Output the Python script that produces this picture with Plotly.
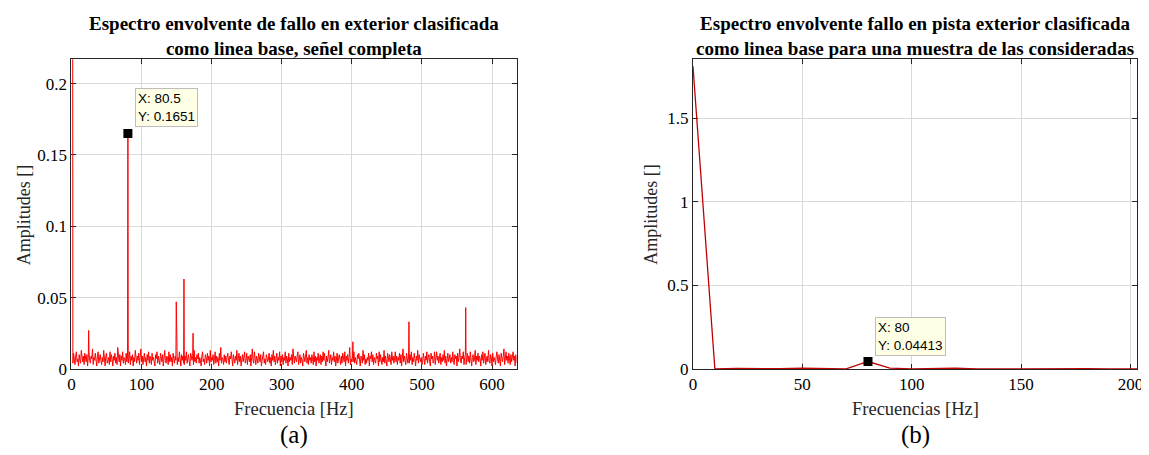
import plotly.graph_objects as go

# ---------------- data (a): full-signal envelope spectrum ----------------
dc_freq_a = [0.0]
dc_amp_a = [1.8]
# broadband noise floor, read every 1 Hz (1, 2, 3, ... Hz), in thousandths
noise_milli_a = [
    8, 4, 11, 6, 3, 9, 12, 5, 7, 2, 10, 6, 4, 13, 8, 5, 9, 3, 11, 7,
    5, 10, 2, 8, 12, 6, 4, 9, 7, 14, 3, 8, 6, 11, 5, 2, 9, 12, 4, 7,
    10, 6, 3, 8, 5, 13, 7, 2, 9, 11, 4, 6, 8, 3, 12, 5, 10, 7, 2, 9,
    6, 11, 4, 8, 3, 15, 7, 5, 10, 2, 9, 6, 12, 4, 8, 7, 3, 11, 5, 9,
    4, 7, 12, 3, 9, 6, 10, 2, 8, 5, 13, 7, 4, 9, 6, 11, 3, 8, 14, 5,
    9, 3, 7, 11, 5, 8, 2, 10, 6, 12, 4, 9, 7, 3, 11, 6, 8, 5, 2, 10,
    7, 12, 4, 9, 6, 3, 11, 8, 5, 10, 2, 7, 13, 6, 4, 9, 8, 3, 12, 5,
    10, 5, 8, 2, 11, 7, 4, 9, 6, 14, 3, 8, 5, 12, 7, 2, 10, 6, 9, 4,
    3, 9, 6, 12, 4, 8, 10, 5, 2, 11, 7, 6, 9, 3, 13, 5, 8, 4, 10, 7,
    11, 4, 8, 6, 2, 9, 12, 5, 7, 3, 10, 8, 4, 11, 6, 9, 2, 13, 5, 8,
    6, 10, 3, 7, 12, 4, 9, 5, 8, 2, 11, 6, 15, 4, 8, 7, 3, 10, 5, 9,
    4, 8, 11, 6, 3, 9, 7, 12, 5, 2, 10, 8, 4, 9, 6, 13, 3, 7, 11, 5,
    9, 2, 7, 10, 5, 8, 12, 4, 6, 11, 3, 9, 7, 5, 10, 2, 8, 14, 6, 4,
    12, 6, 3, 9, 7, 4, 11, 8, 5, 10, 2, 6, 9, 12, 4, 7, 3, 10, 8, 5,
    7, 11, 4, 8, 2, 10, 6, 13, 5, 9, 3, 7, 11, 4, 8, 6, 12, 2, 9, 5,
    10, 3, 8, 6, 12, 4, 9, 7, 2, 11, 5, 8, 6, 10, 3, 14, 7, 4, 9, 6,
    5, 9, 12, 3, 7, 10, 4, 8, 6, 2, 11, 7, 5, 9, 13, 4, 8, 3, 10, 6,
    8, 4, 10, 7, 3, 12, 5, 9, 2, 8, 6, 11, 4, 7, 10, 3, 9, 5, 12, 6,
    11, 6, 2, 9, 5, 8, 13, 4, 7, 10, 3, 8, 6, 12, 5, 9, 2, 7, 11, 4,
    6, 10, 7, 3, 9, 4, 11, 8, 5, 12, 2, 9, 6, 10, 4, 8, 15, 3, 7, 5,
    9, 5, 12, 4, 8, 6, 3, 10, 7, 11, 5, 2, 9, 8, 4, 13, 6, 10, 3, 7,
    4, 8, 6, 11, 2, 9, 7, 12, 5, 10, 3, 8, 6, 4, 11, 7, 9, 2, 12, 5,
    10, 7, 3, 8, 5, 13, 4, 9, 6, 2, 11, 8, 5, 10, 7, 3, 12, 6, 9, 4,
    7, 12, 5, 9, 3, 8, 6, 11, 4, 10, 2, 7, 14, 5, 9, 6, 3, 11, 8, 4,
    9, 4, 10, 6, 12, 3, 8, 5, 11, 7, 2, 9, 6, 13, 4, 10, 7, 5, 8, 3,
    5, 11, 7, 3, 9, 6, 12, 4, 8, 10, 5, 2, 11, 7, 9, 4, 6, 12, 3, 8,
    12, 6, 9, 4, 7, 11, 3, 8, 5, 10, 6, 13, 4, 9, 2, 8, 11, 5, 7, 10,
    4, 8, 5, 12, 6, 3, 10, 7, 9, 2, 11, 5, 8, 14, 6, 4, 9, 7, 12, 3,
    8, 10, 3, 7, 11, 5, 9, 4, 12, 6, 2, 8, 10, 5, 7, 13, 3, 9, 6, 11,
    5, 9, 7, 2, 10, 6, 12, 4, 8, 11, 3, 7, 9, 5, 13, 6, 4, 10, 8, 2,
    11, 5, 8, 6, 3, 9, 12, 7, 4, 10, 6, 2, 11, 8, 5, 9, 14, 3, 7, 12,
    6, 9, 4, 11, 7, 3, 10, 5, 8, 12, 6, 9, 2, 10, 7, 4, 13, 8, 5, 11,
]
noise_freq_a = list(range(1, len(noise_milli_a) + 1))
# discrete spectral peaks
peak_freq_a = [24.5, 80.5, 149.5, 160.5, 173.5, 401.5, 481.5, 562.5]
peak_amp_a = [0.027, 0.1651, 0.047, 0.063, 0.025, 0.019, 0.033, 0.043]

# ---------------- data (b): one sample, 10 Hz resolution ----------------
freq_b = [0, 10, 20, 30, 40, 50, 60, 70, 80, 90, 100, 110, 120, 130, 140,
          150, 160, 170, 180, 190, 200, 210]
amp_b = [1.81, 0.0, 0.003, 0.0, 0.001, 0.005, 0.004, 0.0, 0.04413, 0.005,
         0.0, 0.002, 0.005, 0.0, 0.001, 0.0, 0.003, 0.0, 0.001, 0.0, 0.003, 0.0]

# datatips
tip_a = (80.5, 0.1651)
tip_b = (80, 0.04413)

titles = ["Espectro envolvente de fallo en exterior clasificada<br>como linea base, señel completa",
          "Espectro envolvente fallo en pista exterior clasificada<br>como linea base para una muestra de las consideradas"]
xtitles = ["Frecuencia [Hz]", "Frecuencias [Hz]"]
ytitle = "Amplitudes []"
labels = ["(a)", "(b)"]

# ---------------- assemble series (a) ----------------
pts = list(zip(dc_freq_a, dc_amp_a))
pts += [(f, v / 1000.0) for f, v in zip(noise_freq_a, noise_milli_a)]
pts += list(zip(peak_freq_a, peak_amp_a))
pts.sort(key=lambda p: p[0])
xa = [p[0] for p in pts]
ya = [p[1] for p in pts]

# the page shows the figure shifted right by the body margin
OX, OY = 8, 0
W, H = 1149 - OX, 455 - OY


def px(x):
    return (x - OX) / W


def py(y):
    return (H - (y - OY)) / H


SERIF = "Liberation Serif"
SANS = "Liberation Sans"

dom_a = [px(68), px(517)]
dom_b = [px(695), px(1143)]
ydom = [py(369), py(52.5)]

fig = go.Figure()
fig.add_trace(go.Scatter(x=xa, y=ya, mode="lines", line=dict(color="#ff0000", width=1),
                         xaxis="x", yaxis="y", showlegend=False, hoverinfo="skip"))
fig.add_trace(go.Scatter(x=[tip_a[0]], y=[tip_a[1]], mode="markers",
                         marker=dict(symbol="square", size=9, color="black"),
                         xaxis="x", yaxis="y", showlegend=False))
fig.add_trace(go.Scatter(x=freq_b, y=amp_b, mode="lines", line=dict(color="#c00000", width=1.3),
                         xaxis="x2", yaxis="y2", showlegend=False, hoverinfo="skip"))
fig.add_trace(go.Scatter(x=[tip_b[0]], y=[tip_b[1]], mode="markers",
                         marker=dict(symbol="square", size=9, color="black"),
                         xaxis="x2", yaxis="y2", showlegend=False))

axis_common = dict(showline=True, linecolor="#262626", linewidth=1, mirror="allticks",
                   ticks="inside", ticklen=5, tickcolor="#262626",
                   showgrid=True, gridcolor="#d9d9d9", gridwidth=1, zeroline=False,
                   tickfont=dict(family=SERIF, size=17, color="#000000"),
                   ticklabeloverflow="allow",
                   layer="below traces")

fig.update_layout(
    width=W, height=H, margin=dict(l=0, r=0, t=0, b=0),
    paper_bgcolor="white", plot_bgcolor="white",
    xaxis=dict(domain=dom_a, anchor="y", range=[0, 635], tickvals=[0, 100, 200, 300, 400, 500, 600],
               **axis_common),
    yaxis=dict(domain=ydom, anchor="x", range=[0, 0.217], tickvals=[0, 0.05, 0.1, 0.15, 0.2],
               ticktext=["0", "0.05", "0.1", "0.15", "0.2"], **axis_common),
    xaxis2=dict(domain=dom_b, anchor="y2", range=[0, 203], tickvals=[0, 50, 100, 150, 200],
                **axis_common),
    yaxis2=dict(domain=ydom, anchor="x2", range=[0, 1.851], tickvals=[0, 0.5, 1, 1.5],
                ticktext=["0", "0.5", "1", "1.5"], **axis_common),
)

ann = []
for i, (dom, cx_ylab) in enumerate([(dom_a, 20), (dom_b, 653)]):
    cx = (dom[0] + dom[1]) / 2
    ann.append(dict(text="<b>" + titles[i] + "</b>", x=cx, y=py(29), xref="paper", yref="paper",
                    xanchor="center", yanchor="middle", showarrow=False,
                    font=dict(family=SERIF, size=19, color="black")))
    ann.append(dict(text=xtitles[i], x=cx, y=py(410), xref="paper", yref="paper",
                    xanchor="center", yanchor="middle", showarrow=False,
                    font=dict(family=SERIF, size=18.5, color="#262626")))
    ann.append(dict(text=labels[i], x=cx, y=py(437), xref="paper", yref="paper",
                    xanchor="center", yanchor="middle", showarrow=False,
                    font=dict(family=SERIF, size=25, color="black")))
    ann.append(dict(text=ytitle, x=px(cx_ylab), y=py(211), xref="paper", yref="paper",
                    xanchor="center", yanchor="middle", showarrow=False, textangle=-90,
                    font=dict(family=SERIF, size=18, color="#262626")))

for tip, xr, yr in [(tip_a, "x", "y"), (tip_b, "x2", "y2")]:
    ann.append(dict(text=f"X: {tip[0]:g}<br>Y: {tip[1]:.4g}", x=tip[0], y=tip[1], xref=xr, yref=yr,
                    xanchor="left", yanchor="bottom", xshift=7, yshift=6, showarrow=False,
                    align="left", bgcolor="#ffffe6", bordercolor="#bdbdbd", borderwidth=1, borderpad=2,
                    font=dict(family=SANS, size=13.5, color="black")))

fig.update_layout(annotations=ann)
fig.write_html("out.html")
